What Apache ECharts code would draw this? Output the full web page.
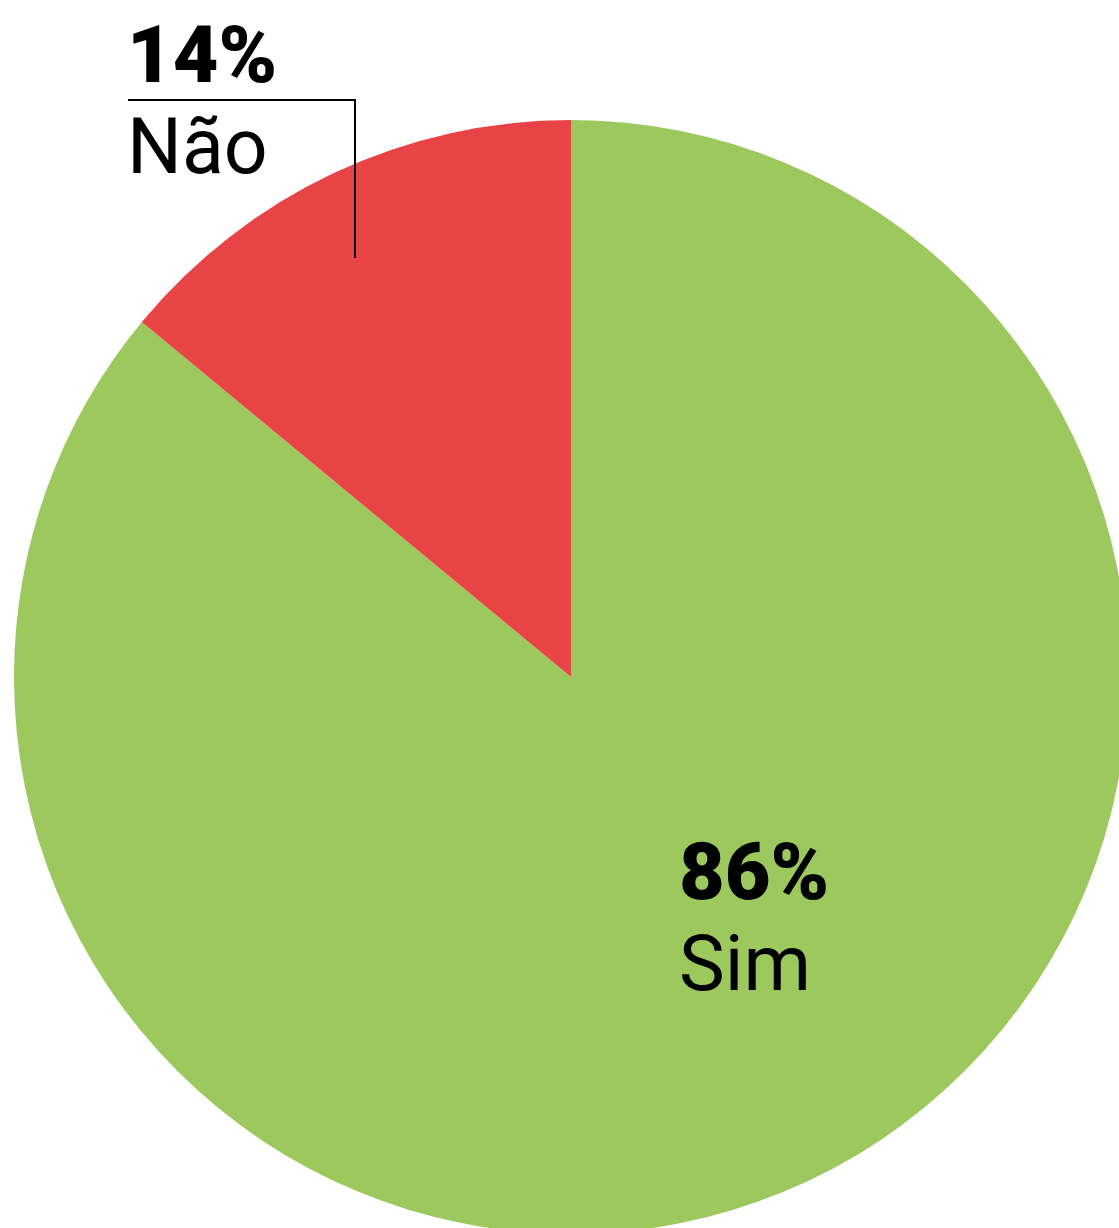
<!DOCTYPE html>
<html>
<head>
<meta charset="utf-8">
<script src="https://cdn.jsdelivr.net/npm/echarts@6/dist/echarts.min.js"></script>
<style>
  html, body { margin: 0; padding: 0; background: #fff; }
  #chart { width: 1119px; height: 1228px; }
</style>
</head>
<body>
<div id="chart"></div>
<script>
// dados
const categories = ["Sim", "Não"];
const values = [86, 14];
const colors = ["#9CC85E", "#E84446"];

let chart = echarts.init(document.getElementById("chart"));

chart.setOption({
  animation: false,
  // linha de chamada do rótulo "Não" (por cima da fatia)
  graphic: [
    {
      type: "polyline",
      z: 100,
      shape: { points: [[355, 258], [355, 100], [128, 100]] },
      style: { stroke: "#000", lineWidth: 2, fill: null }
    }
  ],
  series: [
    {
      type: "pie",
      center: [571, 677],
      radius: 557,
      startAngle: 90,
      clockwise: true,
      emphasis: { disabled: true },
      data: categories.map((name, i) => ({
        name: name,
        value: values[i],
        itemStyle: { color: colors[i] }
      })),
      label: {
        show: true,
        color: "#000",
        fontFamily: "Roboto",
        formatter: "{p|{c}%}\n{n|{b}}",
        rich: {
          p: { fontSize: 79, fontWeight: 900, lineHeight: 90, fontFamily: "Roboto", color: "#000" },
          n: { fontSize: 77, lineHeight: 94, fontFamily: "Roboto", color: "#000" }
        }
      },
      labelLine: { show: false },
      // posição dos rótulos
      labelLayout: function (params) {
        if (params.dataIndex === 1) {
          return { x: 127, y: 17, align: "left", verticalAlign: "top" };
        }
        return { x: 679, y: 834, align: "left", verticalAlign: "top" };
      }
    }
  ]
});
</script>
</body>
</html>
